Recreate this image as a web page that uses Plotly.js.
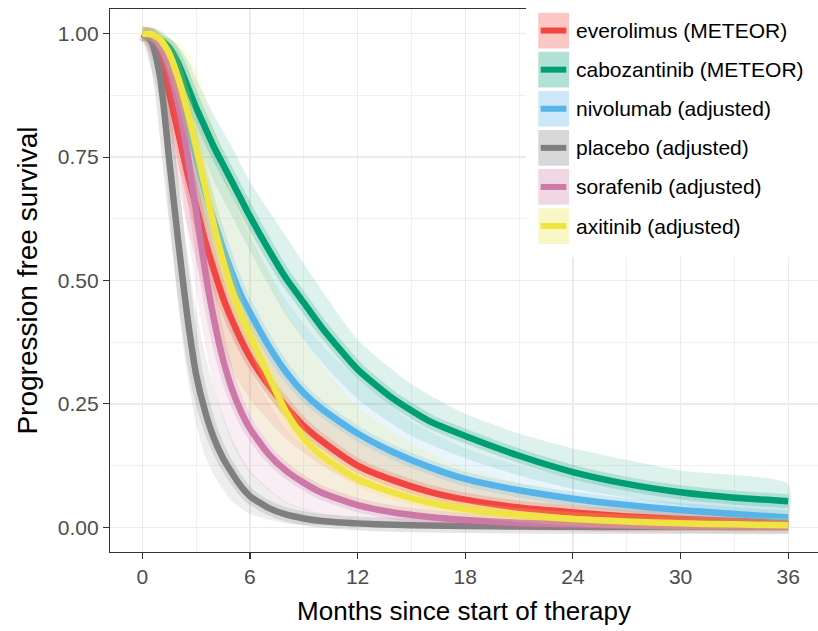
<!DOCTYPE html>
<html>
<head>
<meta charset="utf-8">
<script src="https://cdn.plot.ly/plotly-3.0.1.min.js"></script>
<style>
html,body{margin:0;padding:0;background:#fff;}
#chart{width:818px;height:631px;}
</style>
</head>
<body>
<div id="chart"></div>
<script>
// ---- Data ----
const months = [0,0.5,1,1.5,2,2.5,3,3.5,4,4.5,5,5.5,6,7,8,9,10,12,14,16,18,21,24,27,30,33,36];

const everolimus   = [1,0.995,0.955,0.88,0.80,0.72,0.65,0.58,0.52,0.465,0.42,0.38,0.345,0.29,0.245,0.205,0.175,0.125,0.095,0.072,0.056,0.04,0.03,0.022,0.017,0.013,0.01];
const cabozantinib = [1,0.998,0.988,0.972,0.94,0.895,0.85,0.81,0.77,0.735,0.70,0.665,0.63,0.565,0.505,0.455,0.405,0.32,0.26,0.215,0.185,0.145,0.112,0.088,0.071,0.06,0.053];
const nivolumab    = [1,0.997,0.978,0.942,0.89,0.82,0.75,0.68,0.62,0.565,0.515,0.47,0.435,0.37,0.315,0.272,0.24,0.19,0.152,0.122,0.098,0.075,0.058,0.045,0.035,0.027,0.02];
const placebo      = [1,0.985,0.91,0.745,0.58,0.43,0.31,0.235,0.18,0.14,0.11,0.083,0.063,0.04,0.026,0.018,0.013,0.008,0.005,0.0035,0.0025,0.0015,0.001,0.0007,0.0005,0.0003,0.0002];
const sorafenib    = [1,0.997,0.973,0.93,0.86,0.76,0.64,0.52,0.42,0.34,0.28,0.235,0.2,0.15,0.115,0.09,0.07,0.045,0.03,0.021,0.015,0.009,0.006,0.004,0.003,0.002,0.0015];
const axitinib     = [1,0.999,0.988,0.96,0.91,0.845,0.77,0.69,0.61,0.54,0.48,0.43,0.39,0.31,0.235,0.18,0.145,0.098,0.07,0.05,0.037,0.025,0.017,0.012,0.008,0.006,0.004];

// confidence bands
const bandMonths = [0,1,1.5,2,2.5,3,3.5,4,5,6,8,10,12,15,18,21,24,30,36];
const everolimusUpper   = [1,0.99,0.955,0.9,0.83,0.76,0.69,0.63,0.53,0.44,0.32,0.24,0.18,0.13,0.095,0.072,0.055,0.034,0.021];
const everolimusLower   = [1,0.91,0.8,0.70,0.61,0.54,0.47,0.41,0.32,0.26,0.18,0.125,0.088,0.058,0.039,0.027,0.019,0.01,0.006];
const cabozantinibUpper = [1,0.997,0.99,0.975,0.95,0.91,0.87,0.835,0.77,0.70,0.59,0.48,0.38,0.29,0.23,0.19,0.16,0.115,0.088];
const cabozantinibLower = [1,0.975,0.95,0.9,0.845,0.79,0.745,0.70,0.63,0.56,0.43,0.335,0.26,0.185,0.14,0.105,0.078,0.045,0.028];
const nivolumabUpper    = [1,0.997,0.985,0.96,0.92,0.87,0.82,0.77,0.67,0.59,0.46,0.37,0.30,0.215,0.16,0.125,0.10,0.07,0.05];
const nivolumabLower    = [1,0.95,0.89,0.81,0.72,0.63,0.56,0.50,0.39,0.32,0.22,0.16,0.12,0.085,0.06,0.045,0.033,0.02,0.011];
const placeboUpper      = [1,0.97,0.86,0.71,0.56,0.44,0.35,0.28,0.18,0.115,0.052,0.028,0.017,0.009,0.005,0.003,0.002,0.001,0.001];
const placeboLower      = [1,0.86,0.64,0.45,0.31,0.21,0.145,0.105,0.053,0.027,0.008,0.003,0.001,0,0,0,0,0,0];
const sorafenibUpper    = [1,0.997,0.983,0.95,0.88,0.79,0.69,0.59,0.43,0.32,0.2,0.135,0.095,0.058,0.038,0.026,0.019,0.011,0.007];
const sorafenibLower    = [1,0.93,0.85,0.74,0.61,0.48,0.37,0.28,0.17,0.11,0.05,0.027,0.016,0.008,0.004,0.002,0.001,0.0005,0];
const axitinibUpper     = [1,0.998,0.993,0.983,0.963,0.93,0.875,0.81,0.70,0.60,0.44,0.33,0.245,0.17,0.12,0.09,0.067,0.04,0.025];
const axitinibLower     = [1,0.96,0.89,0.8,0.7,0.6,0.51,0.43,0.31,0.23,0.125,0.075,0.047,0.026,0.016,0.01,0.006,0.003,0.001];

const seriesNames = ["everolimus (METEOR)","cabozantinib (METEOR)","nivolumab (adjusted)","placebo (adjusted)","sorafenib (adjusted)","axitinib (adjusted)"];
const xTicks = [0,6,12,18,24,30,36];
const yTicks = [0,0.25,0.5,0.75,1];

// ---- Styling ----
const colors = [[242,68,64],[0,158,115],[86,180,233],[127,127,127],[204,121,167],[240,228,66]];
const rgba = (c,a)=>`rgba(${c[0]},${c[1]},${c[2]},${a})`;

const curves = [everolimus,cabozantinib,nivolumab,placebo,sorafenib,axitinib];
const uppers = [everolimusUpper,cabozantinibUpper,nivolumabUpper,placeboUpper,sorafenibUpper,axitinibUpper];
const lowers = [everolimusLower,cabozantinibLower,nivolumabLower,placeboLower,sorafenibLower,axitinibLower];

const traces = [];
// outer ribbons
for (let i=0;i<6;i++){
  traces.push({
    type:'scatter', mode:'lines',
    x: bandMonths.concat(bandMonths.slice().reverse()),
    y: uppers[i].concat(lowers[i].slice().reverse()),
    fill:'toself', fillcolor: rgba(colors[i],0.13),
    line:{width:0, shape:'spline', smoothing:0.6},
    hoverinfo:'skip', showlegend:false
  });
}
// inner halo + line
for (let i=0;i<6;i++){
  traces.push({
    type:'scatter', mode:'lines', x: months, y: curves[i],
    line:{color: rgba(colors[i],0.2), width:14, shape:'spline', smoothing:0.6},
    hoverinfo:'skip', showlegend:false
  });
  traces.push({
    type:'scatter', mode:'lines', x: months, y: curves[i], name: seriesNames[i],
    line:{color: rgba(colors[i],1), width:6.5, shape:'spline', smoothing:0.6},
    showlegend:false
  });
}

// pixel helpers for the hand-drawn legend (plot area: x 110..818, y 9..552)
const PL=110, PR=818, PT=9, PB=552;
const px = v => (v-PL)/(PR-PL);
const py = v => (PB-v)/(PB-PT);

const shapes = [{
  type:'rect', xref:'paper', yref:'paper', layer:'above',
  x0:px(526), x1:px(830), y0:py(257), y1:py(-5),
  fillcolor:'#ffffff', line:{width:0}
}];
const annotations = [];
for (let i=0;i<6;i++){
  const top = 12.7 + i*39.1, h = 35.7, cy = top + h/2;
  shapes.push({type:'rect', xref:'paper', yref:'paper', layer:'above',
    x0:px(538.3), x1:px(569), y0:py(top+h), y1:py(top),
    fillcolor: rgba(colors[i],0.3), line:{width:0}});
  shapes.push({type:'line', xref:'paper', yref:'paper', layer:'above',
    x0:px(540.7), x1:px(566.3), y0:py(cy), y1:py(cy),
    line:{color: rgba(colors[i],1), width:6}});
  annotations.push({xref:'paper', yref:'paper', x:px(574), y:py(cy),
    xanchor:'left', yanchor:'middle', showarrow:false, text: seriesNames[i],
    font:{family:'Liberation Sans, Arial, sans-serif', size:21, color:'#000000'}});
}

const layout = {
  width:818, height:631,
  margin:{l:PL, r:818-PR, t:PT, b:631-PB, pad:0},
  paper_bgcolor:'#ffffff', plot_bgcolor:'#ffffff',
  font:{family:'Liberation Sans, Arial, sans-serif'},
  showlegend:false,
  xaxis:{
    range:[-1.8, 37.66], tickvals:xTicks, ticktext:xTicks.map(String),
    ticks:'outside', ticklen:6, tickwidth:1.1, tickcolor:'#333333',
    tickfont:{size:21, color:'#4D4D4D'},
    showline:true, linecolor:'#333333', linewidth:1.1, mirror:true,
    showgrid:true, gridcolor:'#EBEBEB', gridwidth:1.2,
    minor:{tickvals:[3,9,15,21,27,33], showgrid:true, gridcolor:'#F0F0F0', gridwidth:1, ticks:''},
    zeroline:false,
    title:{text:'Months since start of therapy', font:{size:26, color:'#000000'}, standoff:14},
    automargin:false
  },
  yaxis:{
    range:[-0.05, 1.05], tickvals:yTicks, ticktext:yTicks.map(v=>v.toFixed(2)),
    ticks:'outside', ticklen:6, tickwidth:1.1, tickcolor:'#333333',
    tickfont:{size:21, color:'#4D4D4D'},
    showline:true, linecolor:'#333333', linewidth:1.1, mirror:false,
    showgrid:true, gridcolor:'#EBEBEB', gridwidth:1.2,
    minor:{tickvals:[0.125,0.375,0.625,0.875], showgrid:true, gridcolor:'#F0F0F0', gridwidth:1, ticks:''},
    zeroline:false,
    title:{text:'Progression free survival', font:{size:28, color:'#000000'}, standoff:12},
    automargin:false
  },
  shapes: shapes,
  annotations: annotations
};

Plotly.newPlot('chart', traces, layout, {staticPlot:true, displayModeBar:false});
</script>
</body>
</html>
